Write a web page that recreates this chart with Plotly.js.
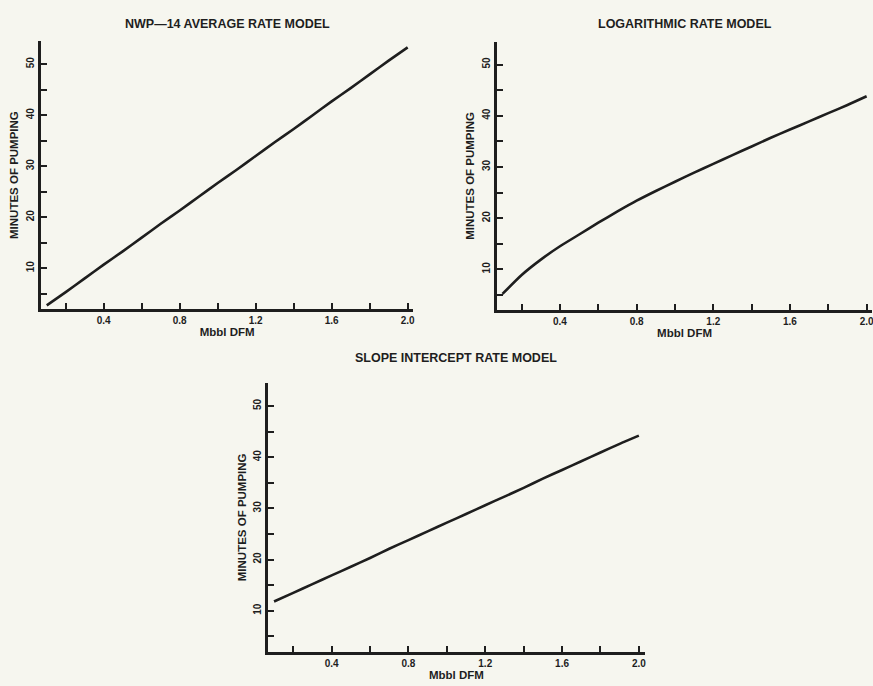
<!DOCTYPE html>
<html>
<head>
<meta charset="utf-8">
<script src="https://cdn.plot.ly/plotly-3.0.1.min.js"></script>
<style>html,body{margin:0;padding:0;background:#f6f6ef;}#chart{width:873px;height:686px;}</style>
</head>
<body>
<div id="chart"></div>
<script>
// Mbbl DFM (x) shared by all three models
var mbbl = [0.1,0.2,0.3,0.4,0.5,0.6,0.7,0.8,0.9,1.0,1.1,1.2,1.3,1.4,1.5,1.6,1.7,1.8,1.9,2.0];
// Minutes of pumping
var avgRate = [2.7,5.3,8.0,10.7,13.3,16.0,18.7,21.3,24.0,26.7,29.3,32.0,34.7,37.3,40.0,42.7,45.3,48.0,50.7,53.3];
var logRate = [5.2,8.9,11.9,14.5,16.8,19.1,21.3,23.4,25.3,27.1,28.9,30.6,32.3,34.0,35.7,37.3,38.9,40.5,42.1,43.8];
var slopeRate = [11.8,13.5,15.2,16.9,18.6,20.3,22.1,23.8,25.5,27.2,28.9,30.6,32.3,34.0,35.8,37.5,39.2,40.9,42.6,44.2];

var panelTitles = ["NWP\u201414 AVERAGE RATE MODEL", "LOGARITHMIC RATE MODEL", "SLOPE INTERCEPT RATE MODEL"];
var xTitle = "Mbbl DFM";
var yTitle = "MINUTES OF PUMPING";
var xTickVals = [0.2,0.4,0.6,0.8,1.0,1.2,1.4,1.6,1.8,2.0];
var xTickText = ["","0.4","","0.8","","1.2","","1.6","","2.0"];
var yTickVals = [5,10,15,20,25,30,35,40,45,50];
var yTickText = ["","10","","20","","30","","40","","50"];

var fontFam = "Liberation Sans, Arial, sans-serif";
var ink = "#1e1e1e";

function mkLine(y, xa, ya) {
  return {x: mbbl, y: y, xaxis: xa, yaxis: ya, type: "scatter", mode: "lines",
          line: {color: ink, width: 2.6, shape: "spline", smoothing: 0.6}, hoverinfo: "skip", showlegend: false};
}
var data = [mkLine(avgRate, "x", "y"), mkLine(logRate, "x2", "y2"), mkLine(slopeRate, "x3", "y3")];

function xa(dom, anchor) {
  return {domain: dom, anchor: anchor, range: [0.07, 2.03], showgrid: false, zeroline: false,
    showline: true, linecolor: ink, linewidth: 3, ticks: "inside", ticklen: 6, tickwidth: 2, tickcolor: ink,
    tickmode: "array", tickvals: xTickVals, ticktext: xTickText, ticklabeloverflow: "allow",
    tickfont: {family: fontFam, size: 10, color: ink, weight: "bold"},
    title: {text: xTitle, font: {family: fontFam, size: 11.5, color: ink, weight: "bold"}, standoff: 2}};
}
function ya(dom, anchor) {
  return {domain: dom, anchor: anchor, range: [2, 54.5], showgrid: false, zeroline: false,
    showline: true, linecolor: ink, linewidth: 3, ticks: "inside", ticklen: 6, tickwidth: 2, tickcolor: ink,
    tickmode: "array", tickvals: yTickVals, ticktext: yTickText, tickangle: -90,
    tickfont: {family: fontFam, size: 10, color: ink, weight: "bold"},
    title: {text: yTitle, font: {family: fontFam, size: 11.5, color: ink, weight: "bold"}, standoff: 4}};
}

var layout = {
  width: 873, height: 686,
  margin: {l: 0, r: 0, t: 0, b: 0},
  paper_bgcolor: "#f6f6ef", plot_bgcolor: "#f6f6ef",
  showlegend: false,
  xaxis: xa([0.0470, 0.4735], "y"),
  yaxis: ya([0.5496, 0.9399], "x"),
  xaxis2: xa([0.5690, 0.9993], "y2"),
  yaxis2: ya([0.5477, 0.9395], "x2"),
  xaxis3: xa([0.3073, 0.7384], "y3"),
  yaxis3: ya([0.0500, 0.4418], "x3"),
  annotations: [
    {text: panelTitles[0], xref: "x domain", yref: "paper", x: 0.5, y: 1 - 15/686, showarrow: false,
     font: {family: fontFam, size: 12.5, color: ink, weight: "bold"}},
    {text: panelTitles[1], xref: "x2 domain", yref: "paper", x: 0.5, y: 1 - 15/686, showarrow: false,
     font: {family: fontFam, size: 12.5, color: ink, weight: "bold"}},
    {text: panelTitles[2], xref: "x3 domain", yref: "paper", x: 0.5, y: 1 - 358/686, showarrow: false,
     font: {family: fontFam, size: 12.5, color: ink, weight: "bold"}}
  ]
};

Plotly.newPlot("chart", data, layout, {displayModeBar: false, staticPlot: true});
</script>
</body>
</html>
